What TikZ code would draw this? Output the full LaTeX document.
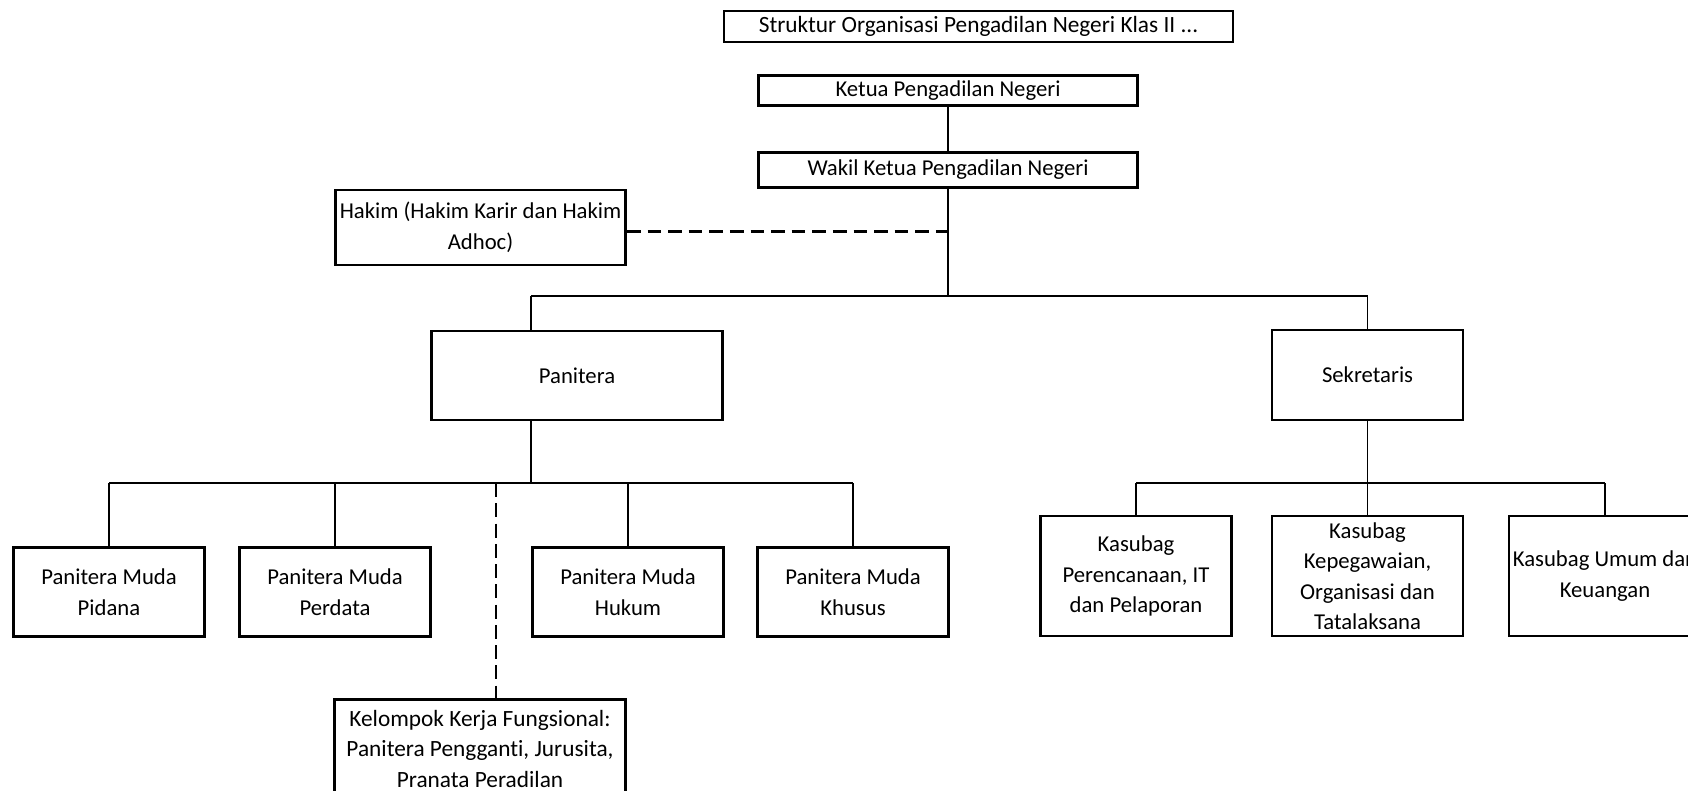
\documentclass[tikz,border=0pt]{standalone}
\usepackage{fontspec}
\setmainfont{Carlito}[Ligatures=NoCommon]
\newcommand\orgfs{\fontsize{22.7}{30.5}\selectfont}
\newcommand\titlefs{\fontsize{23.3}{30.5}\selectfont}
\tikzset{
  box/.style={draw, line width=2.8pt, inner sep=0pt, align=center, font=\orgfs},
  thinline/.style={line width=1.4pt},
  busline/.style={line width=2.6pt},
  dashline/.style={line width=2.6pt, dash pattern=on 13.7pt off 6.9pt},
  vdashline/.style={line width=2.6pt, dash pattern=on 14pt off 6.25pt},
}
\begin{document}
\begin{tikzpicture}[x=1pt,y=-1pt]
\path[fill=white, use as bounding box] (0,0) rectangle (1688,790);
% boxes
\node[box, font=\titlefs, minimum width=509pt, minimum height=31pt] (title) at (978.5,26.5) {Struktur Organisasi Pengadilan Negeri Klas II ...};
\node[box, minimum width=379pt, minimum height=30pt] (ketua) at (948,90.5) {Ketua Pengadilan Negeri};
\node[box, minimum width=379pt, minimum height=35pt] (wakil) at (948,170) {Wakil Ketua Pengadilan Negeri};
\node[box, minimum width=290pt, minimum height=75pt] (hakim) at (480.5,227.5) {Hakim (Hakim Karir dan Hakim\\Adhoc)};
\node[box, minimum width=291pt, minimum height=89pt] (panitera) at (577,375.5) {Panitera};
\node[box, minimum width=191pt, minimum height=90pt] (sekretaris) at (1367.5,375) {Sekretaris};
\node[box, minimum width=191pt, minimum height=89pt] (pidana) at (109,592) {Panitera Muda\\Pidana};
\node[box, minimum width=191pt, minimum height=89pt] (perdata) at (335,592) {Panitera Muda\\Perdata};
\node[box, minimum width=191pt, minimum height=89pt] (hukum) at (628,592) {Panitera Muda\\Hukum};
\node[box, minimum width=191pt, minimum height=89pt] (khusus) at (853,592) {Panitera Muda\\Khusus};
\node[box, font=\titlefs, minimum width=291pt, minimum height=98pt] (kelompok) at (480,748.5) {Kelompok Kerja Fungsional:\\Panitera Pengganti, Jurusita,\\Pranata Peradilan};
\node[box, minimum width=191pt, minimum height=120pt] (k1) at (1136,576) {Kasubag\\Perencanaan, IT\\dan Pelaporan};
\node[box, minimum width=191pt, minimum height=120pt] (k2) at (1367.5,576) {Kasubag\\Kepegawaian,\\Organisasi dan\\Tatalaksana};
\node[box, minimum width=192pt, minimum height=120pt] (k3) at (1605,576) {Kasubag Umum dan\\Keuangan};
% coordinates
\coordinate (w1) at (948,296);
\coordinate (b1l) at (531,296);
\coordinate (b1r) at (1367.5,296);
\coordinate (hk) at (948,231.5);
\coordinate (p0) at (531,483);
\coordinate (pl) at (109,483);
\coordinate (pr) at (853,483);
\coordinate (pd) at (496,483);
\coordinate (sl) at (1136,483);
\coordinate (sr) at (1605,483);
% connectors
\draw[thinline] (ketua.south) -- (wakil.north);
\draw[thinline] (wakil.south) -- (w1);
\draw[dashline] (hakim.east |- hk) -- (hk);
\draw[busline] (b1l) -- (b1r);
\draw[thinline] (b1l) -- (b1l |- panitera.north);
\draw[thinline] (b1r) -- (sekretaris.north);
\draw[thinline] (panitera.south -| p0) -- (p0);
\draw[busline] (pl) -- (pr);
\draw[thinline] (pl) -- (pidana.north);
\draw[thinline] (perdata.north |- pl) -- (perdata.north);
\draw[thinline] (hukum.north |- pl) -- (hukum.north);
\draw[thinline] (pr) -- (khusus.north);
\draw[vdashline] (pd) -- (pd |- kelompok.north);
\draw[thinline] (sekretaris.south) -- (sekretaris.south |- sl);
\draw[busline] (sl) -- (sr);
\draw[thinline] (sl) -- (k1.north);
\draw[thinline] (k2.north |- sl) -- (k2.north);
\draw[thinline] (sr) -- (k3.north);
\end{tikzpicture}
\end{document}
